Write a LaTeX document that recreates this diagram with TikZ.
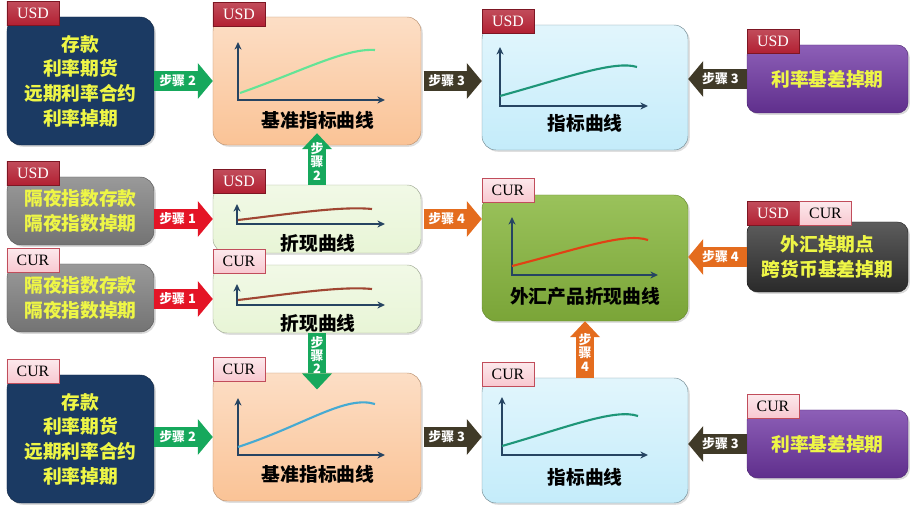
\documentclass[tikz,border=0pt]{standalone}
\usepackage{fontspec}
\setmainfont{Liberation Serif}
\newfontfamily\cjk{Noto Sans CJK SC}
\usetikzlibrary{arrows.meta,positioning,calc,shadows}
\definecolor{tagred}{RGB}{178,32,50}
\definecolor{tagpink}{RGB}{248,200,208}
\definecolor{txtyellow}{RGB}{238,246,70}
\definecolor{boxnavy}{RGB}{27,58,99}
\definecolor{boxgray}{RGB}{128,128,128}
\definecolor{boxpeach}{RGB}{250,195,150}
\definecolor{boxmint}{RGB}{232,245,214}
\definecolor{boxcyan}{RGB}{196,236,250}
\definecolor{boxleaf}{RGB}{136,183,62}
\definecolor{boxpurple}{RGB}{112,55,165}
\definecolor{boxcoal}{RGB}{52,52,52}
\definecolor{axisblue}{RGB}{38,68,98}
\definecolor{crvlime}{RGB}{100,228,150}
\definecolor{crvbrown}{RGB}{160,70,50}
\definecolor{crvsky}{RGB}{70,170,210}
\definecolor{crvteal}{RGB}{30,150,120}
\definecolor{crvred}{RGB}{225,65,20}
\definecolor{stepgreen}{RGB}{22,168,92}
\definecolor{stepred}{RGB}{228,20,38}
\definecolor{stepolive}{RGB}{64,58,40}
\definecolor{steporange}{RGB}{228,108,30}

\begin{document}
\begin{tikzpicture}[x=0.03cm,y=-0.03cm,
  srcbox/.style={rounded corners=12pt,minimum width=4.41cm,align=center,
    text=txtyellow,font=\cjk\bfseries\fontsize{16}{21}\selectfont,
    drop shadow={opacity=0.3,shadow xshift=1.5pt,shadow yshift=-1.5pt}},
  curvebox/.style={rounded corners=12pt,
    drop shadow={opacity=0.25,shadow xshift=1.5pt,shadow yshift=-1.5pt}},
  rhsbox/.style={rounded corners=9pt,minimum width=4.83cm,align=center,
    text=txtyellow,font=\cjk\bfseries\fontsize{16}{21}\selectfont,
    drop shadow={opacity=0.3,shadow xshift=1.5pt,shadow yshift=-1.5pt}},
  tag/.style={minimum width=1.56cm,minimum height=0.72cm,inner sep=0pt,
    font=\fontsize{13.5}{13.5}\selectfont,anchor=west},
  tagusd/.style={tag,top color=tagred!80!white,bottom color=tagred,
    draw=tagred!70!black,text=white},
  tagcur/.style={tag,top color=tagpink!40!white,bottom color=tagpink,
    draw=tagred!80,text=black},
  curvelabel/.style={font=\cjk\bfseries\fontsize{16}{16}\selectfont},
  axis/.style={{Stealth[length=6.5pt,width=6pt]}-{Stealth[length=6.5pt,width=6pt]},
    draw=axisblue,line width=1.3pt},
  curve/.style={line width=1.8pt,draw=#1},
  steph/.style={draw=#1,line width=0.6cm,
    -{Triangle[length=0.45cm,width=1.08cm,line width=0pt]}},
  stepv/.style={draw=#1,line width=0.54cm,
    -{Triangle[length=0.48cm,width=0.9cm,line width=0pt]}},
  steplabel/.style={text=white,inner sep=0pt,align=center,
    font=\cjk\bfseries\fontsize{11}{11.5}\selectfont}]
  \useasboundingbox (0,0) rectangle (915,510);

  % left column: source instruments
  \node[srcbox,fill=boxnavy,draw=boxnavy!70!black,minimum height=3.84cm]
    (a1) at (80.5,81) {存款\\利率期货\\远期利率合约\\利率掉期};
  \node[srcbox,top color=boxgray!80!white,bottom color=boxgray!90!black,
    draw=boxgray!70!black,minimum height=2.04cm]
    (a2) at (80.5,211) {隔夜指数存款\\隔夜指数掉期};
  \node[srcbox,top color=boxgray!80!white,bottom color=boxgray!90!black,
    draw=boxgray!70!black,minimum height=2.04cm]
    (a3) at (80.5,298) {隔夜指数存款\\隔夜指数掉期};
  \node[srcbox,fill=boxnavy,draw=boxnavy!70!black,minimum height=3.84cm]
    (a4) at (80.5,439) {存款\\利率期货\\远期利率合约\\利率掉期};

  % middle column: curves
  \node[curvebox,top color=boxpeach!55!white,bottom color=boxpeach,
    draw=boxpeach!75!black,minimum width=6.24cm,minimum height=3.84cm] (b1) at (317,81) {};
  \node[curvebox,top color=boxmint!60!white,bottom color=boxmint,
    draw=boxmint!70!black,minimum width=6.24cm,minimum height=2.04cm] (b2) at (317,219) {};
  \node[curvebox,top color=boxmint!60!white,bottom color=boxmint,
    draw=boxmint!70!black,minimum width=6.24cm,minimum height=2.04cm] (b3) at (317,299) {};
  \node[curvebox,top color=boxpeach!55!white,bottom color=boxpeach,
    draw=boxpeach!75!black,minimum width=6.24cm,minimum height=3.84cm] (b4) at (317,437) {};

  \node[curvebox,top color=boxcyan!50!white,bottom color=boxcyan,
    draw=boxcyan!60!black,minimum width=6.18cm,minimum height=3.75cm] (c1) at (585,87.5) {};
  \node[curvebox,top color=boxleaf!85!white,bottom color=boxleaf!90!black,
    draw=boxleaf!75!black,minimum width=6.18cm,minimum height=3.78cm] (c2) at (585,258) {};
  \node[curvebox,top color=boxcyan!50!white,bottom color=boxcyan,
    draw=boxcyan!60!black,minimum width=6.18cm,minimum height=3.75cm] (c3) at (585,440.5) {};

  % right column
  \node[rhsbox,top color=boxpurple!80!white,bottom color=boxpurple!85!black,
    draw=boxpurple!70!black,minimum height=2.04cm] (d1) at (827.5,79) {利率基差掉期};
  \node[rhsbox,top color=boxcoal!80!white,bottom color=boxcoal!80!black,
    draw=boxcoal!60!black,minimum height=2.1cm] (d2) at (827.5,257) {外汇掉期点\\跨货币基差掉期};
  \node[rhsbox,top color=boxpurple!80!white,bottom color=boxpurple!85!black,
    draw=boxpurple!70!black,minimum height=2.04cm] (d3) at (827.5,444) {利率基差掉期};

  % currency tags
  \node[tagusd,yshift=3pt] (a1t) at (a1.north west) {USD};
  \node[tagusd,yshift=3pt] (a2t) at (a2.north west) {USD};
  \node[tagcur,yshift=3pt] (a3t) at (a3.north west) {CUR};
  \node[tagcur,yshift=3pt] (a4t) at (a4.north west) {CUR};
  \node[tagusd,yshift=2pt] (b1t) at (b1.north west) {USD};
  \node[tagusd,yshift=3pt] (b2t) at (b2.north west) {USD};
  \node[tagcur,yshift=3pt] (b3t) at (b3.north west) {CUR};
  \node[tagcur,yshift=3pt] (b4t) at (b4.north west) {CUR};
  \node[tagusd,yshift=3pt] (c1t) at (c1.north west) {USD};
  \node[tagcur,yshift=4pt] (c2t) at (c2.north west) {CUR};
  \node[tagcur,yshift=3pt] (c3t) at (c3.north west) {CUR};
  \node[tagusd,yshift=3pt] (d1t) at (d1.north west) {USD};
  \node[tagusd,yshift=7pt] (d2u) at (d2.north west) {USD};
  \node[tagcur] (d2c) at (d2u.east) {CUR};
  \node[tagcur,yshift=3pt] (d3t) at (d3.north west) {CUR};

  % small charts
  \draw[axis] (238,42) |- (385,100);
  \draw[curve=crvlime] (240,93) .. controls (300,72) and (345,48) .. (375,50);
  \node[curvelabel] (b1l) at (318,120) {基准指标曲线};
  \draw[axis] (237,204) |- (385,224);
  \draw[curve=crvbrown] (238,220) .. controls (290,214) and (340,206) .. (372,209);
  \node[curvelabel] (b2l) at (318,243) {折现曲线};
  \draw[axis] (237,284) |- (385,305);
  \draw[curve=crvbrown] (238,300) .. controls (290,294) and (340,286) .. (372,289);
  \node[curvelabel] (b3l) at (318,323) {折现曲线};
  \draw[axis] (238,398) |- (385,455);
  \draw[curve=crvsky] (238,447) .. controls (305,425) and (345,395) .. (375,404);
  \node[curvelabel] (b4l) at (318,474) {基准指标曲线};
  \draw[axis] (500,47) |- (648,106);
  \draw[curve=crvteal] (500,96) .. controls (565,78) and (615,60) .. (637,67);
  \node[curvelabel] (c1l) at (585,123) {指标曲线};
  \draw[axis] (512,217) |- (658,275);
  \draw[curve=crvred] (512,266) .. controls (575,250) and (625,232) .. (648,240);
  \node[curvelabel] (c2l) at (585,296) {外汇产品折现曲线};
  \draw[axis] (502,397) |- (648,455);
  \draw[curve=crvteal] (502,446) .. controls (565,428) and (615,408) .. (638,416);
  \node[curvelabel] (c3l) at (585,477) {指标曲线};

  % steps
  \draw[steph=stepgreen] (a1.east) -- (b1.west) node[steplabel,pos=0.4] {步骤 2};
  \draw[steph=stepred] (a2.east |- b2.west) -- (b2.west) node[steplabel,pos=0.4] {步骤 1};
  \draw[steph=stepred] (a3.east |- b3.west) -- (b3.west) node[steplabel,pos=0.4] {步骤 1};
  \draw[steph=stepgreen] (a4.east |- b4.west) -- (b4.west) node[steplabel,pos=0.4] {步骤 2};
  \draw[stepv=stepgreen,shorten >=-0.36cm] (b2.north) -- (b1.south) node[steplabel,pos=0.6] {步\\骤\\2};
  \draw[stepv=stepgreen,shorten >=-0.5cm] (b3.south) -- (b4.north) node[steplabel,pos=0.55] {步\\骤\\2};
  \draw[steph=stepolive,shorten <=2pt] (b1.east) -- (b1.east -| c1.west) node[steplabel,pos=0.42] {步骤 3};
  \draw[steph=stepolive,shorten <=2pt] (b4.east) -- (b4.east -| c3.west) node[steplabel,pos=0.42] {步骤 3};
  \draw[steph=stepolive] (d1.west) -- (d1.west -| c1.east) node[steplabel,pos=0.45] {步骤 3};
  \draw[steph=stepolive] (d3.west) -- (d3.west -| c3.east) node[steplabel,pos=0.45] {步骤 3};
  \draw[steph=steporange,shorten <=2pt] (b2.east) -- (b2.east -| c2.west) node[steplabel,pos=0.42] {步骤 4};
  \draw[steph=steporange] (d2.west) -- (d2.west -| c2.east) node[steplabel,pos=0.45] {步骤 4};
  \draw[stepv=steporange] (c3.north) -- (c2.south) node[steplabel,pos=0.45] {步\\骤\\4};
\end{tikzpicture}
\end{document}
